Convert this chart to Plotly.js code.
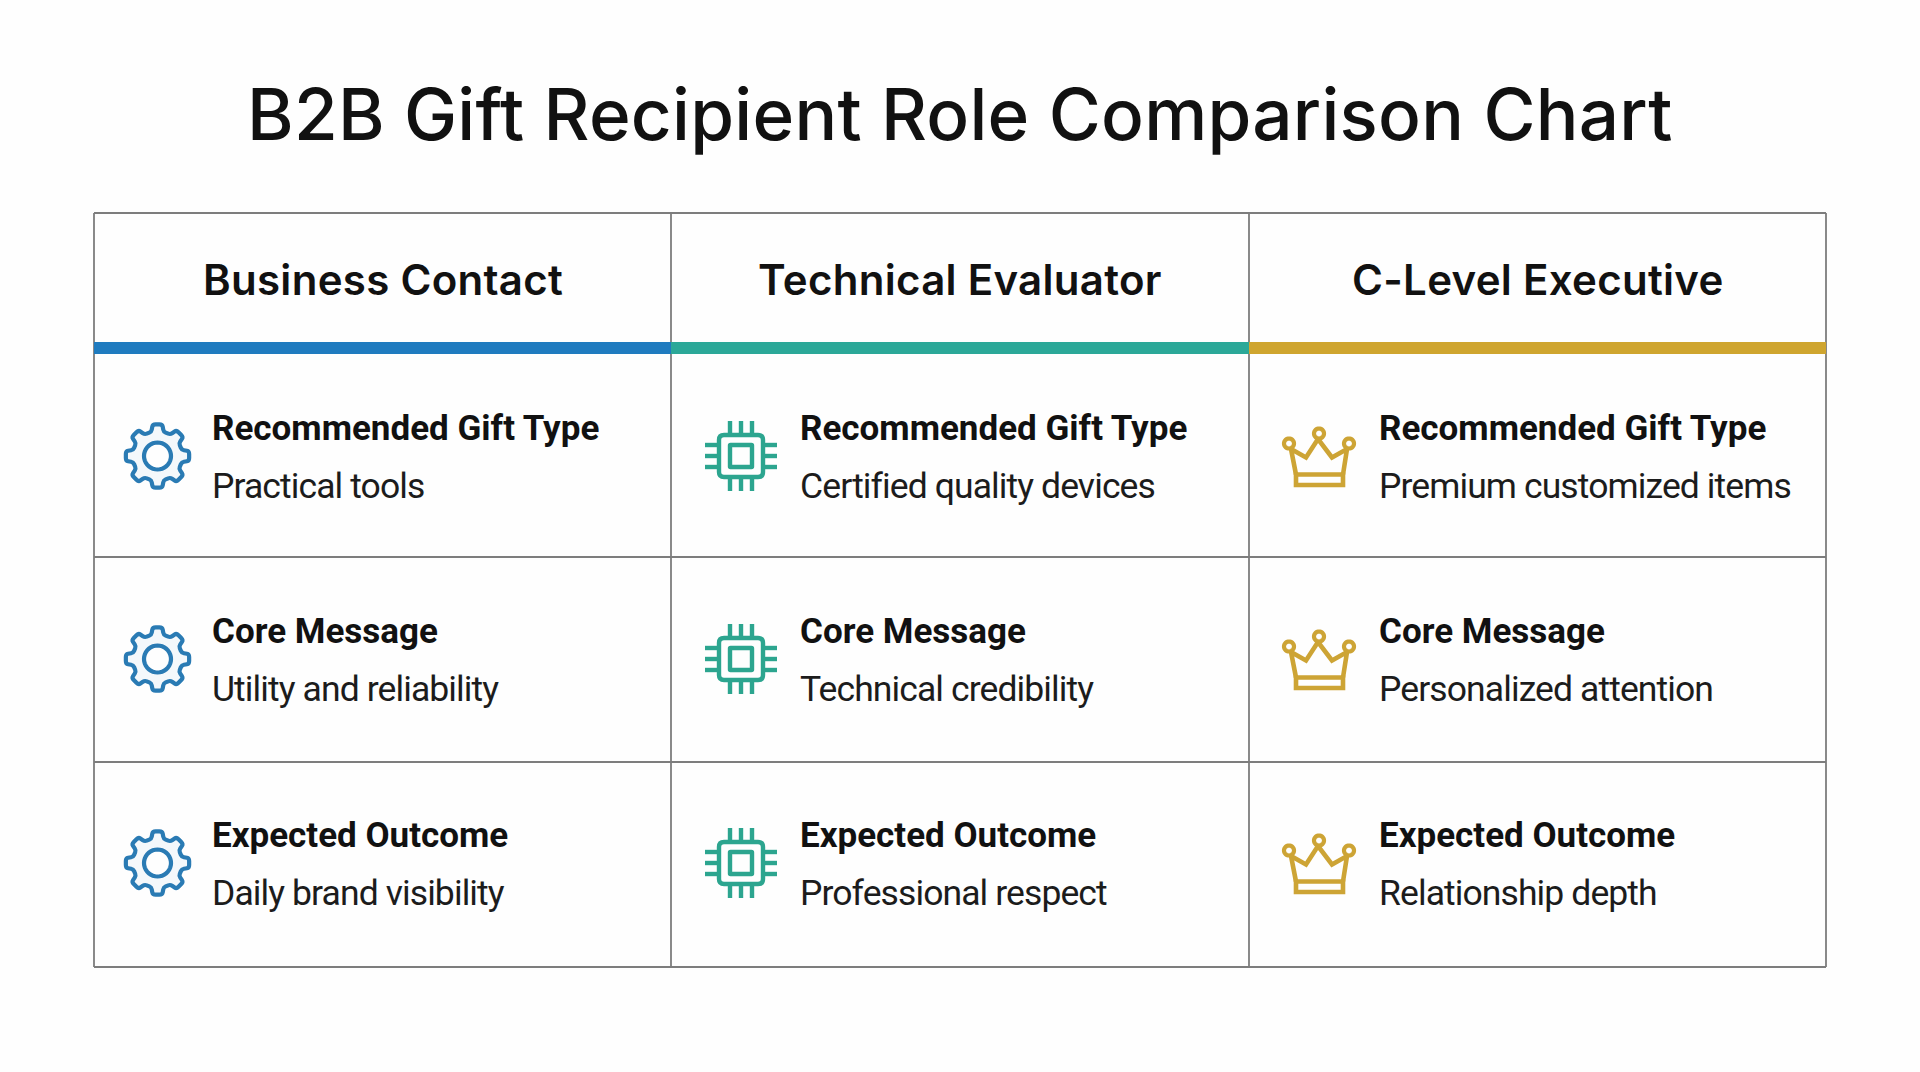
<!DOCTYPE html>
<html><head><meta charset="utf-8">
<script src="https://cdn.plot.ly/plotly-3.0.1.min.js"></script>
<style>html,body{margin:0;padding:0;background:#fefefe;overflow:hidden}
.annotation-text[style*="font-size: 71px"]{letter-spacing:0.25px}
.annotation-text[style*="font-size: 42px"]{letter-spacing:0.3px}
.annotation-text[style*="font-size: 35.5px"]{letter-spacing:-0.9px}
</style>
</head><body><div id="chart" style="width:1920px;height:1072px"></div>
<script>
const chartTitle = "B2B Gift Recipient Role Comparison Chart";
const roles = ["Business Contact", "Technical Evaluator", "C-Level Executive"];
const rowLabels = ["Recommended Gift Type", "Core Message", "Expected Outcome"];
const businessValues = ["Practical tools", "Utility and reliability", "Daily brand visibility"];
const technicalValues = ["Certified quality devices", "Technical credibility", "Professional respect"];
const executiveValues = ["Premium customized items", "Personalized attention", "Relationship depth"];
const roleColors = ["#1f7bbf", "#2ba898", "#cfa52f"];
const iconColors = ["#2a7bb4", "#2ca58f", "#cda435"];
const iconKinds = ["gear", "chip", "crown"];

const columnEdges = [94, 671, 1249, 1826];
const rowEdges = [213, 354, 557, 762, 967];
const rowMids = [456, 659, 863];
const iconX = [157.5, 741, 1319];
const textX = [209.5, 797.5, 1376.5];
const values = [businessValues, technicalValues, executiveValues];
const GRID = "#7d7d7d";
const INK = "#111111";
const HEAD_FONT = "Inter, sans-serif";
const BODY_FONT = "Roboto, sans-serif";

const shapes = [], annotations = [];
const rect = (x0, x1, y0, y1, color) => shapes.push({type:"rect", xref:"x", yref:"y", x0, x1, y0, y1, fillcolor:color, line:{width:0}});
const seg = (x0, y0, x1, y1, color, w) => shapes.push({type:"line", xref:"x", yref:"y", x0, y0, x1, y1, line:{color, width:w}});
const path = (d, color, w, fill) => shapes.push({type:"path", xref:"x", yref:"y", path:d, line:{color, width:w}, fillcolor:fill || "rgba(0,0,0,0)"});
const f = n => n.toFixed(2);

function circle(cx, cy, r) {
  let d = "";
  for (let i = 0; i <= 36; i++) {
    const a = i / 36 * 2 * Math.PI;
    d += (i ? "L" : "M") + f(cx + r * Math.cos(a)) + "," + f(cy + r * Math.sin(a));
  }
  return d + "Z";
}
function gear(cx, cy, color) {
  const n = 8, rTip = 32, rRoot = 25;
  const pts = [];
  for (let i = 0; i < n; i++) {
    const c = -Math.PI / 2 + i * 2 * Math.PI / n;
    [[rRoot, -0.25], [rTip, -0.15], [rTip, 0.15], [rRoot, 0.25]].forEach(([r, o]) => pts.push([cx + r * Math.cos(c + o), cy + r * Math.sin(c + o)]));
  }
  let d = "";
  pts.forEach((p, i) => {
    const q = pts[(i + 1) % pts.length], o = pts[(i - 1 + pts.length) % pts.length];
    const t = 0.3;
    const a = [p[0] + (o[0] - p[0]) * t, p[1] + (o[1] - p[1]) * t];
    const b = [p[0] + (q[0] - p[0]) * t, p[1] + (q[1] - p[1]) * t];
    d += (i ? "L" : "M") + f(a[0]) + "," + f(a[1]) + "Q" + f(p[0]) + "," + f(p[1]) + " " + f(b[0]) + "," + f(b[1]);
  });
  path(d + "Z", color, 4.2, "#f4f8fb");
  path(circle(cx, cy, 13.5), color, 4.2, "#fefefe");
}
function roundRect(x0, y0, x1, y1, r) {
  return `M${x0 + r},${y0}L${x1 - r},${y0}Q${x1},${y0} ${x1},${y0 + r}L${x1},${y1 - r}Q${x1},${y1} ${x1 - r},${y1}L${x0 + r},${y1}Q${x0},${y1} ${x0},${y1 - r}L${x0},${y0 + r}Q${x0},${y0} ${x0 + r},${y0}Z`;
}
function chip(cx, cy, color) {
  [-11, 0, 11].forEach(o => {
    seg(cx + o, cy - 35, cx + o, cy - 21, color, 4.4);
    seg(cx + o, cy + 21, cx + o, cy + 35, color, 4.4);
    seg(cx - 36, cy + o, cx - 22, cy + o, color, 4.4);
    seg(cx + 22, cy + o, cx + 36, cy + o, color, 4.4);
  });
  path(roundRect(cx - 22, cy - 21, cx + 22, cy + 21, 5), color, 4.4, "#fefefe");
  path(roundRect(cx - 11, cy - 11, cx + 11, cy + 11, 0.5), color, 4.4);
}
function crown(cx, cy, color) {
  const o = (x, y) => f(cx + x) + "," + f(cy + y);
  path("M" + o(-23, 18.5) + "L" + o(-28, -7) + "L" + o(-13, 1.5) + "L" + o(-1, -17) + "L" + o(13, 1.5) + "L" + o(28, -7) + "L" + o(24, 18.5), color, 4.6);
  path(`M${o(-23, 18.5)}L${o(24, 18.5)}L${o(24, 29)}L${o(-23, 29)}Z`, color, 4.6);
  path(circle(cx - 30, cy - 12.5, 5), color, 4.2, "#fefefe");
  path(circle(cx, cy - 22.5, 5), color, 4.2, "#fefefe");
  path(circle(cx + 30, cy - 12.5, 5), color, 4.2, "#fefefe");
}
const drawIcon = {gear, chip, crown};

/* grid */
const tableLeft = columnEdges[0], tableRight = columnEdges[3];
rowEdges.forEach((y, i) => { if (i !== 1) seg(tableLeft, y, tableRight, y, GRID, 1.8); });
columnEdges.forEach(x => seg(x, rowEdges[0], x, rowEdges[4], GRID, 1.8));

roles.forEach((role, c) => {
  rect(columnEdges[c], columnEdges[c + 1], 342, 354, roleColors[c]);
  annotations.push({xref:"x", yref:"y", x:(columnEdges[c] + columnEdges[c + 1]) / 2, y:279, text:role, showarrow:false,
    xanchor:"center", yanchor:"middle", font:{family:HEAD_FONT, size:42, color:INK, weight:600}});
  rowLabels.forEach((label, r) => {
    const mid = rowMids[r];
    drawIcon[iconKinds[c]](iconX[c], mid, iconColors[c]);
    annotations.push({xref:"x", yref:"y", x:textX[c], y:mid - 27.5, text:"<b>" + label + "</b>", showarrow:false,
      xanchor:"left", yanchor:"middle", font:{family:BODY_FONT, size:35, color:INK}});
    annotations.push({xref:"x", yref:"y", x:textX[c], y:mid + 29.5, text:values[c][r], showarrow:false,
      xanchor:"left", yanchor:"middle", font:{family:BODY_FONT, size:35.5, color:"#1c1c1c"}});
  });
});
annotations.push({xref:"x", yref:"y", x:960, y:114, text:chartTitle, showarrow:false, xanchor:"center", yanchor:"middle",
  font:{family:HEAD_FONT, size:71, color:INK, weight:500}});

Plotly.newPlot("chart", [{type:"scatter", x:[], y:[], hoverinfo:"skip", showlegend:false}], {
  width:1920, height:1072, margin:{l:0, r:0, t:0, b:0},
  paper_bgcolor:"#fefefe", plot_bgcolor:"#fefefe", showlegend:false,
  xaxis:{range:[0, 1920], visible:false, fixedrange:true},
  yaxis:{range:[1072, 0], visible:false, fixedrange:true},
  shapes, annotations
}, {displayModeBar:false, staticPlot:true});
</script></body></html>
